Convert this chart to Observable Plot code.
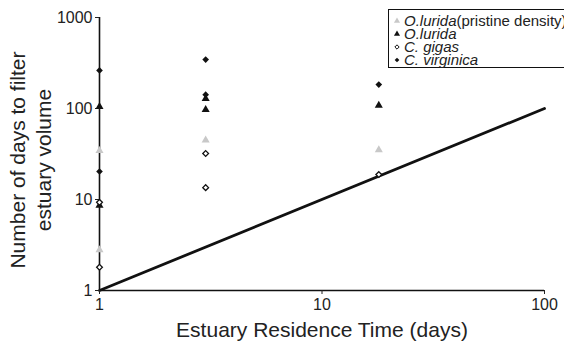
<!DOCTYPE html>
<html>
<head>
<meta charset="utf-8">
<script src="https://cdn.jsdelivr.net/npm/d3@7"></script>
<script src="https://cdn.jsdelivr.net/npm/@observablehq/plot@0.6"></script>
<style>
  html, body { margin: 0; padding: 0; background: #fff; }
  #chart { width: 564px; height: 345px; }
</style>
</head>
<body>
<div id="chart"></div>
<script>
// ---- data ----
const seriesNames = ["O. lurida(pristine density)", "O. lurida", "C. gigas", "C. virginica"];
const xTicks = [1, 10, 100];
const yTicks = [1, 10, 100, 1000];

const pristineX = [1, 1, 3, 18];
const pristineY = [34.5, 2.8, 45, 35];

const luridaX = [1, 1, 3, 3, 18];
const luridaY = [105, 8.6, 128, 97, 108];

const gigasX = [1, 1, 3, 3, 18];
const gigasY = [9.3, 1.8, 32, 13.5, 18.8];

const virginicaX = [1, 1, 3, 3, 18];
const virginicaY = [262, 20.3, 345, 142, 183];

const lineX = [1, 100];
const lineY = [1, 100];

const xLabel = "Estuary Residence Time (days)";
const yLabelLines = ["Number of days to filter", "estuary volume"];

// ---- build ----
const toRows = (xs, ys) => xs.map((x, i) => ({x, y: ys[i]}));
const pristine = toRows(pristineX, pristineY);
const lurida = toRows(luridaX, luridaY);
const gigas = toRows(gigasX, gigasY);
const virginica = toRows(virginicaX, virginicaY);
const oneToOne = toRows(lineX, lineY);

const gray = "#c8c8c8";
const font = "'Liberation Sans', Arial, Helvetica, sans-serif";

const chart = Plot.plot({
  width: 564,
  height: 345,
  marginLeft: 99,
  marginRight: 20,
  marginTop: 17,
  marginBottom: 55,
  style: {fontFamily: font, fontSize: "16px", color: "#222", background: "#fff", overflow: "visible"},
  x: {type: "log", domain: [1, 100]},
  y: {type: "log", domain: [1, 1000]},
  marks: [
    Plot.line(oneToOne, {x: "x", y: "y", stroke: "#111", strokeWidth: 2.8}),
    Plot.ruleX([1], {stroke: "#111", strokeWidth: 1.6}),
    Plot.ruleY([1], {stroke: "#111", strokeWidth: 1.6}),
    Plot.axisX({ticks: xTicks, tickFormat: d => String(d), tickSize: 4, tickPadding: 4, label: null, fontSize: 16}),
    Plot.axisY({ticks: yTicks, tickFormat: d => String(d), tickSize: 4, tickPadding: 3, label: null, fontSize: 16}),
    Plot.dot(pristine, {x: "x", y: "y", symbol: "triangle", r: 3, fill: gray, stroke: "none"}),
    Plot.dot(lurida, {x: "x", y: "y", symbol: "triangle", r: 3, fill: "#111", stroke: "none"}),
    Plot.dot(virginica, {x: "x", y: "y", symbol: "diamond2", r: 3, fill: "#111", stroke: "none"}),
    Plot.dot(gigas, {x: "x", y: "y", symbol: "diamond2", r: 2.6, fill: "#fff", stroke: "#111", strokeWidth: 1.3})
  ]
});
document.getElementById("chart").appendChild(chart);

// ---- titles ----
const svg = d3.select(chart);
svg.append("text")
  .attr("x", 322).attr("y", 337)
  .attr("text-anchor", "middle")
  .attr("font-family", font).attr("font-size", 21).attr("fill", "#222")
  .text(xLabel);

const yt = svg.append("text")
  .attr("transform", "translate(25,160) rotate(-90)")
  .attr("text-anchor", "middle")
  .attr("font-family", font).attr("font-size", 21).attr("fill", "#222");
yLabelLines.forEach((t, i) => {
  yt.append("tspan").attr("x", 0).attr("dy", i === 0 ? 0 : 26).text(t);
});

// ---- legend ----
const lg = svg.append("g").attr("font-family", font).attr("font-size", 15).attr("fill", "#222").attr("text-anchor", "start");
lg.append("rect").attr("x", 388.5).attr("y", 9.5).attr("width", 190).attr("height", 58)
  .attr("fill", "#fff").attr("stroke", "#111").attr("stroke-width", 1);
const legendStyles = [
  {sym: d3.symbolTriangle, fill: gray, stroke: "none", size: 16},
  {sym: d3.symbolTriangle, fill: "#111", stroke: "none", size: 16},
  {sym: d3.symbolDiamond2, fill: "#fff", stroke: "#111", size: 12},
  {sym: d3.symbolDiamond2, fill: "#111", stroke: "none", size: 14}
];
seriesNames.forEach((name, i) => {
  const cy = 21 + i * 13;
  const s = legendStyles[i];
  lg.append("path")
    .attr("d", d3.symbol(s.sym, s.size)())
    .attr("transform", `translate(397,${cy})`)
    .attr("fill", s.fill).attr("stroke", s.stroke).attr("stroke-width", 1);
  const t = lg.append("text").attr("x", 404).attr("y", cy + 5).attr("text-anchor", "start");
  const cut = name.indexOf("(");
  const italicPart = (cut < 0 ? name : name.slice(0, cut)).replace("O. ", "O.");
  const plainPart = cut < 0 ? "" : name.slice(cut);
  t.append("tspan").attr("font-style", "italic").text(italicPart);
  if (plainPart) t.append("tspan").text(plainPart);
});
</script>
</body>
</html>
